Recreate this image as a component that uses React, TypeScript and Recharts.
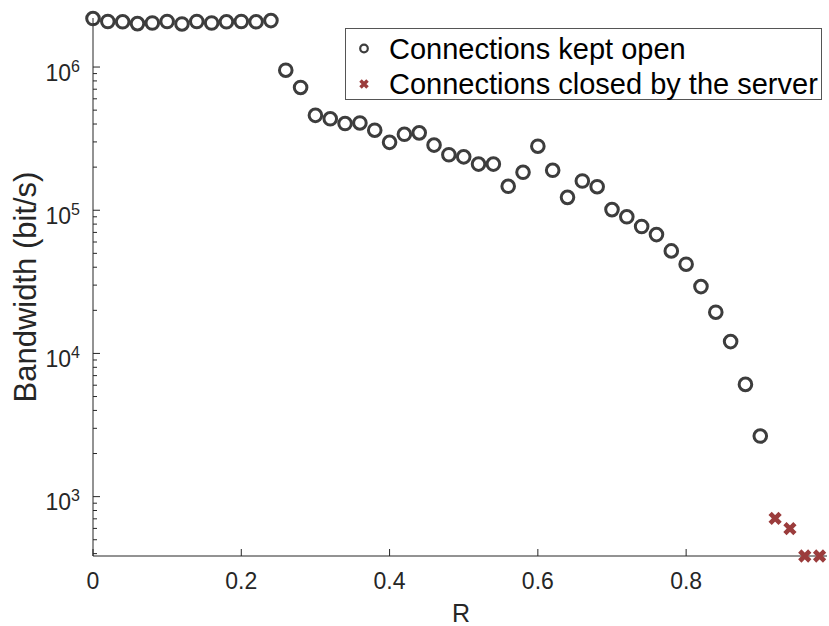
import React from "react";
import {
  ScatterChart,
  Scatter,
  XAxis,
  YAxis,
  Legend,
} from "recharts";

// R values and measured bandwidth (bit/s)
const openR = [
  0, 0.02, 0.04, 0.06, 0.08, 0.1, 0.12, 0.14, 0.16, 0.18, 0.2, 0.22, 0.24,
  0.26, 0.28, 0.3, 0.32, 0.34, 0.36, 0.38, 0.4, 0.42, 0.44, 0.46, 0.48, 0.5,
  0.52, 0.54, 0.56, 0.58, 0.6, 0.62, 0.64, 0.66, 0.68, 0.7, 0.72, 0.74, 0.76,
  0.78, 0.8, 0.82, 0.84, 0.86, 0.88, 0.9,
];
const openBw = [
  2.18e6, 2.08e6, 2.07e6, 2.01e6, 2.03e6, 2.08e6, 2.0e6, 2.08e6, 2.03e6,
  2.07e6, 2.08e6, 2.07e6, 2.11e6, 9.5e5, 7.2e5, 4.6e5, 4.35e5, 4.03e5, 4.07e5,
  3.62e5, 2.98e5, 3.39e5, 3.47e5, 2.85e5, 2.44e5, 2.36e5, 2.1e5, 2.1e5,
  1.47e5, 1.84e5, 2.8e5, 1.9e5, 1.23e5, 1.6e5, 1.46e5, 1.01e5, 9.0e4, 7.7e4,
  6.76e4, 5.2e4, 4.2e4, 2.93e4, 1.94e4, 1.21e4, 6080, 2650,
];
const closedR = [0.92, 0.94, 0.96, 0.98];
const closedBw = [706, 599, 385, 385];

const xTicks = [0, 0.2, 0.4, 0.6, 0.8];
const yMajor = [1e3, 1e4, 1e5, 1e6];
const yMinor = [
  400, 500, 600, 700, 800, 900, 2000, 3000, 4000, 5000, 6000, 7000, 8000, 9000,
  2e4, 3e4, 4e4, 5e4, 6e4, 7e4, 8e4, 9e4, 2e5, 3e5, 4e5, 5e5, 6e5, 7e5, 8e5,
  9e5, 2e6,
];
const yTicks = [...yMajor, ...yMinor].sort((a, b) => a - b);

const openData = openR.map((r, i) => ({ r, bw: openBw[i] }));
const closedData = closedR.map((r, i) => ({ r, bw: closedBw[i] }));

const FONT = '"Liberation Sans", Arial, Helvetica, sans-serif';
const AXIS = "#262626";
const OPEN_COLOR = "#3d3d3d";
const CLOSED_COLOR = "#9b3c3c";

const OpenCircle = (props: any) => (
  <circle
    cx={props.cx}
    cy={props.cy}
    r={6.3}
    fill="none"
    stroke={OPEN_COLOR}
    strokeWidth={3}
  />
);

const Cross = (props: any) => {
  const { cx, cy } = props;
  const s = 5;
  return (
    <path
      d={`M${cx - s},${cy - s}L${cx + s},${cy + s}M${cx + s},${cy - s}L${cx - s},${cy + s}`}
      stroke={CLOSED_COLOR}
      strokeWidth={4.6}
    />
  );
};

const BottomTick = (props: any) => {
  const { x, y, payload } = props;
  return (
    <g>
      <line x1={x} x2={x} y1={y} y2={y - 7} stroke={AXIS} />
      <text
        x={x}
        y={y + 33}
        textAnchor="middle"
        fontFamily={FONT}
        fontSize={23}
        fill={AXIS}
      >
        {payload.value === 0 ? "0" : String(payload.value)}
      </text>
    </g>
  );
};

const TopTick = (props: any) => {
  const { x, y } = props;
  return <line x1={x} x2={x} y1={y} y2={y + 7} stroke={AXIS} />;
};

const LeftTick = (props: any) => {
  const { x, y, payload } = props;
  const major = yMajor.includes(payload.value);
  const exp = Math.round(Math.log10(payload.value));
  return (
    <g>
      <line x1={x} x2={x + (major ? 7 : 4)} y1={y} y2={y} stroke={AXIS} />
      {major && (
        <text
          x={x - 13}
          y={y + 13.5}
          textAnchor="end"
          fontFamily={FONT}
          fontSize={23}
          fill={AXIS}
        >
          10
          <tspan dy={-9} fontSize={16}>
            {exp}
          </tspan>
        </text>
      )}
    </g>
  );
};

const RightTick = (props: any) => {
  const { x, y, payload } = props;
  const major = yMajor.includes(payload.value);
  return <line x1={x} x2={x - (major ? 7 : 4)} y1={y} y2={y} stroke={AXIS} />;
};

const LegendBox = () => (
  <div
    style={{
      position: "relative",
      width: 477,
      height: 72,
      boxSizing: "border-box",
      border: "1px solid #555",
      background: "#fff",
      fontFamily: FONT,
      fontSize: 29,
      color: "#000",
    }}
  >
    <svg
      width={30}
      height={72}
      style={{ position: "absolute", left: 0, top: 0 }}
    >
      <circle cx={18} cy={19.5} r={3.8} fill="none" stroke={OPEN_COLOR} strokeWidth={2.2} />
      <path
        d="M14.5,51.5L21.5,58.5M21.5,51.5L14.5,58.5"
        stroke={CLOSED_COLOR}
        strokeWidth={3.5}
      />
    </svg>
    <div style={{ position: "absolute", left: 43, top: 19.5, transform: "translateY(-50%)", whiteSpace: "nowrap" }}>
      Connections kept open
    </div>
    <div style={{ position: "absolute", left: 43, top: 55, transform: "translateY(-50%)", whiteSpace: "nowrap" }}>
      Connections closed by the server
    </div>
  </div>
);

const App = () => {
  return (
    <div style={{ position: "absolute", left: 0, top: 0, background: "#fff" }}>
      <ScatterChart
        width={829}
        height={626}
        margin={{ top: 18, right: 2, bottom: 0, left: 0 }}
      >
        <XAxis
          xAxisId="b"
          dataKey="r"
          type="number"
          domain={[0, 0.99]}
          ticks={xTicks}
          interval={0}
          height={70}
          tickSize={0}
          tickMargin={0}
          tickLine={false}
          axisLine={{ stroke: AXIS }}
          tick={<BottomTick />}
          label={{
            content: () => (
              <text
                x={461}
                y={622}
                textAnchor="middle"
                fontFamily={FONT}
                fontSize={25}
                fill={AXIS}
              >
                R
              </text>
            ),
          }}
        />
        <XAxis
          xAxisId="t"
          orientation="top"
          dataKey="r"
          type="number"
          domain={[0, 0.99]}
          ticks={xTicks}
          interval={0}
          height={0}
          tickSize={0}
          tickMargin={0}
          tickLine={false}
          axisLine={{ stroke: AXIS }}
          tick={<TopTick />}
        />
        <YAxis
          yAxisId="l"
          dataKey="bw"
          type="number"
          scale="log"
          domain={[385, 2.2e6]}
          ticks={yTicks}
          interval={0}
          width={93}
          tickSize={0}
          tickMargin={0}
          tickLine={false}
          axisLine={{ stroke: AXIS }}
          tick={<LeftTick />}
          label={{
            content: () => (
              <text
                x={36}
                y={287}
                transform="rotate(-90 36 287)"
                textAnchor="middle"
                fontFamily={FONT}
                fontSize={31}
                fill={AXIS}
              >
                Bandwidth (bit/s)
              </text>
            ),
          }}
        />
        <YAxis
          yAxisId="r"
          orientation="right"
          dataKey="bw"
          type="number"
          scale="log"
          domain={[385, 2.2e6]}
          ticks={yTicks}
          interval={0}
          width={0}
          tickSize={0}
          tickMargin={0}
          tickLine={false}
          axisLine={{ stroke: AXIS }}
          tick={<RightTick />}
        />
        <Legend
          layout="vertical"
          align="center"
          verticalAlign="middle"
          wrapperStyle={{ left: 345, top: 28, width: 477 }}
          content={() => <LegendBox />}
        />
        <Scatter
          name="Connections kept open"
          data={openData}
          xAxisId="b"
          yAxisId="l"
          shape={<OpenCircle />}
          isAnimationActive={false}
        />
        <Scatter
          name="Connections closed by the server"
          data={closedData}
          xAxisId="b"
          yAxisId="l"
          shape={<Cross />}
          isAnimationActive={false}
        />
      </ScatterChart>
    </div>
  );
};

export default App;
